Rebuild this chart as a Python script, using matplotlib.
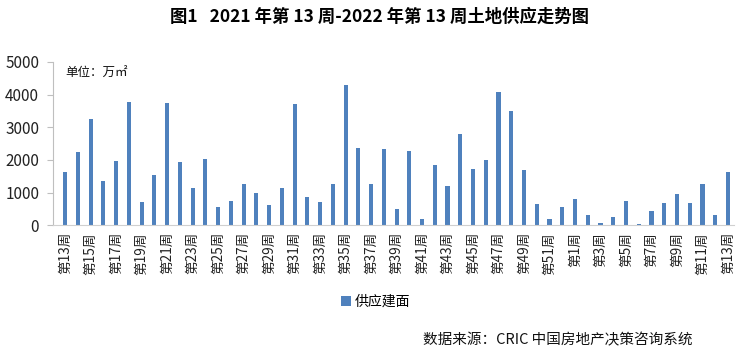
import matplotlib
matplotlib.use("Agg")
import matplotlib.pyplot as plt
import numpy as np

plt.rcParams['font.family'] = ['Noto Sans CJK SC', 'DejaVu Sans']

# 2021 wk13..wk52, then 2022 wk1..wk13
weeks = [f"第{w}周" for w in range(13, 53)] + [f"第{w}周" for w in range(1, 14)]
supply = [1626, 2240, 3250, 1350, 1960, 3770, 705, 1530, 3740, 1930,
          1135, 2025, 550, 735, 1258, 980, 613, 1135, 3712, 859,
          705, 1258, 4295, 2362, 1258, 2331, 491, 2270, 184, 1840,
          1196, 2791, 1718, 1994, 4080, 3497, 1687, 644, 184, 552,
          798, 307, 61, 245, 736, 31, 429, 675, 951, 675,
          1258, 307, 1626]

fig = plt.figure(figsize=(7.52, 3.54), dpi=100)
ax = fig.add_axes([0.0705, 0.364, 0.906, 0.461])

x = np.arange(len(weeks))
ax.bar(x, supply, width=0.32, color='#4F81BD', label='供应建面')

ax.set_ylim(0, 5000)
ax.set_yticks(range(0, 5001, 1000))
ax.set_xlim(-0.95, len(weeks) - 0.5)
ax.set_xticks(x[::2])
ax.set_xticklabels(weeks[::2], rotation=90, fontsize=9.8, color='#222222')
ax.tick_params(axis='x', length=0, pad=5)
ax.tick_params(axis='y', labelsize=11, colors='#222222', length=4, color='#bfbfbf', pad=6)

for s in ['top', 'right']:
    ax.spines[s].set_visible(False)
ax.spines['left'].set_color('#bfbfbf')
ax.spines['bottom'].set_color('#d0d0d0')

ax.text(0.018, 0.97, '单位：万㎡', transform=ax.transAxes, fontsize=9,
        va='top', ha='left', color='#111111')

fig.text(0.505, 0.952, '图1   2021 年第 13 周-2022 年第 13 周土地供应走势图',
         ha='center', va='center', fontsize=12.5, fontweight='bold')

fig.legend(loc='center', bbox_to_anchor=(0.5, 0.148), frameon=False,
           fontsize=10, handlelength=0.7, handleheight=0.7, handletextpad=0.3)

fig.text(0.742, 0.040, '数据来源：CRIC 中国房地产决策咨询系统', ha='center',
         va='center', fontsize=10.5, color='#111111')

fig.savefig('out.png', dpi=100)
